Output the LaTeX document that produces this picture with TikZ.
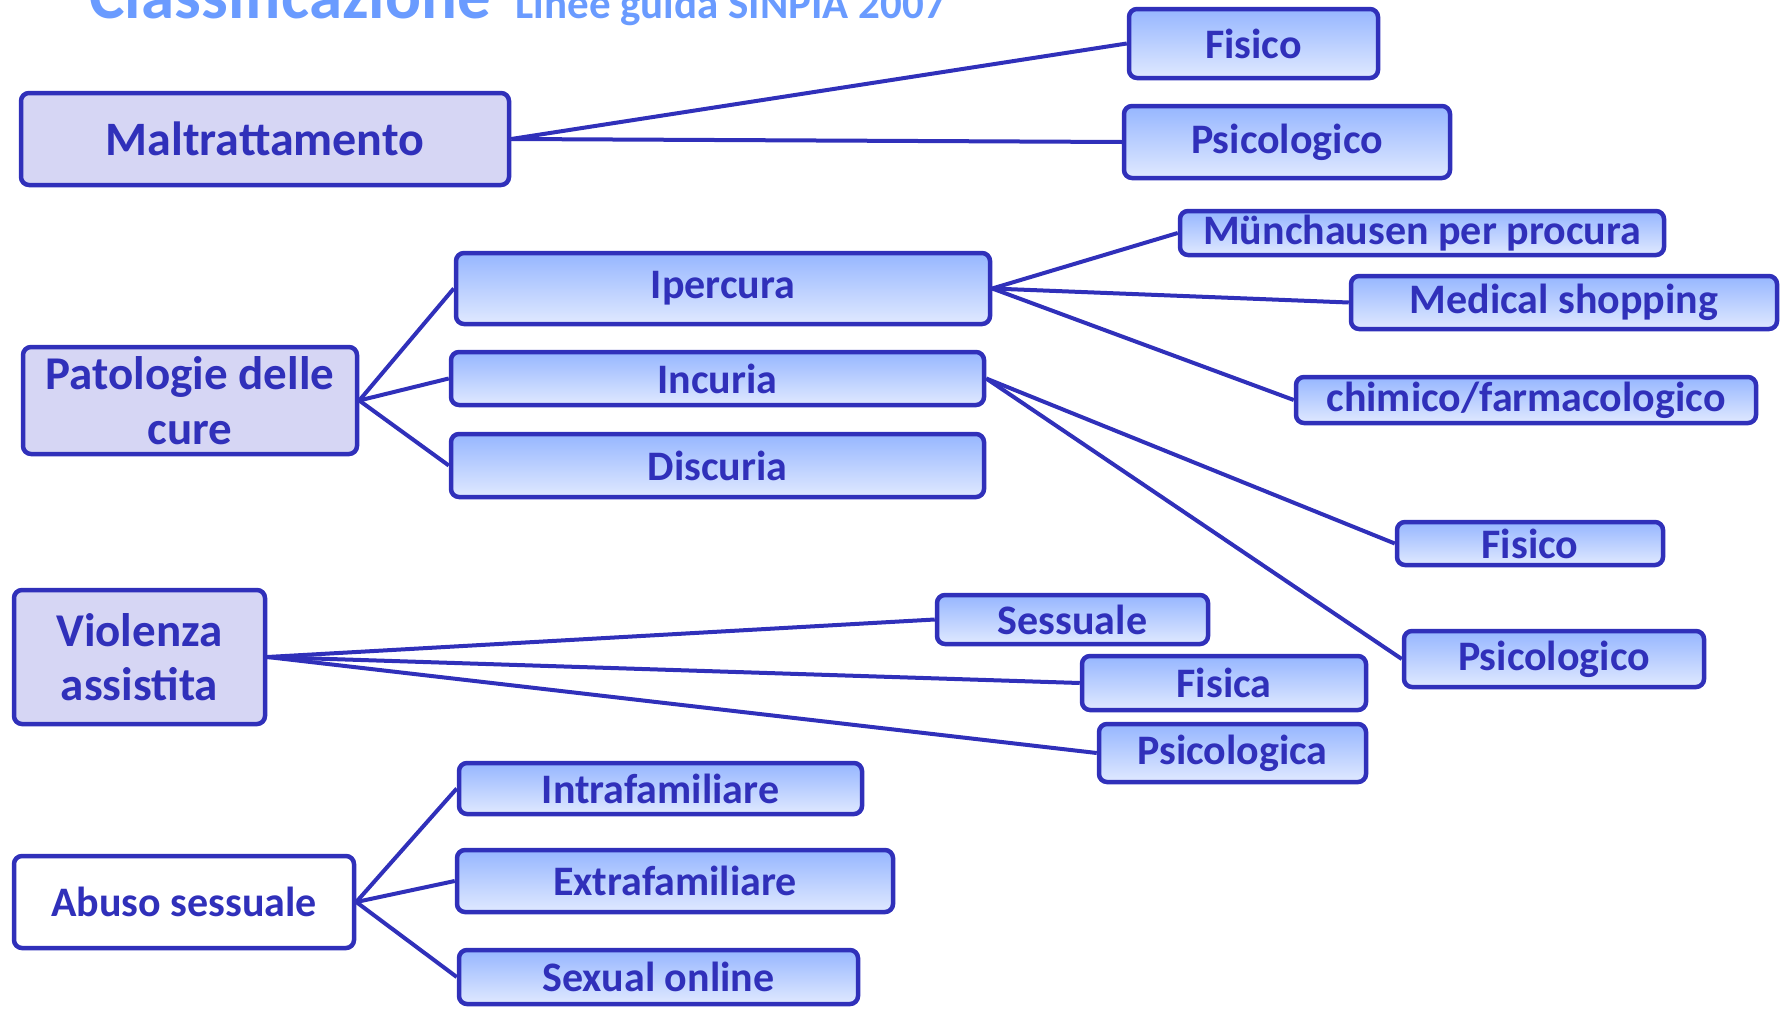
\documentclass[tikz,border=0pt]{standalone}
\usepackage{fontspec}
\setmainfont{Carlito}
\usepackage{tikz}

\definecolor{navy}{RGB}{48,48,186}
\definecolor{rootfill}{RGB}{214,214,244}
\definecolor{leaftop}{RGB}{150,182,255}
\definecolor{leafbot}{RGB}{224,233,255}
\definecolor{titleblue}{RGB}{106,155,255}

\tikzset{
  box/.style={draw=navy, line width=4.5pt, rounded corners=8pt, inner sep=0pt, text=navy, align=center},
  root/.style={box, fill=rootfill},
  leaf/.style={box, top color=leaftop, bottom color=leafbot, font=\bfseries\fontsize{42}{50}\selectfont},
  conn/.style={navy, line width=4pt}
}

\begin{document}
\begin{tikzpicture}[x=1pt,y=-1pt] % pixel grid
\useasboundingbox (0,0) rectangle (1781,1009);

\node[anchor=base west, text=titleblue, font=\bfseries\fontsize{67}{67}\selectfont] (title) at (86,18) {Classificazione};
\node[anchor=base west, text=titleblue, font=\bfseries\fontsize{43}{43}\selectfont] (subtitle) at (512,18) {Linee guida SINPIA 2007};

% roots
\node[root, minimum width=488pt, minimum height=92pt, font=\bfseries\fontsize{48}{56}\selectfont] (malt) at (265,139) {Maltrattamento};
\node[root, minimum width=334pt, minimum height=107pt, font=\bfseries\fontsize{47}{55}\selectfont] (patol) at (190,400.5) {Patologie delle\\cure};
\node[root, minimum width=251pt, minimum height=134pt, font=\bfseries\fontsize{47}{54}\selectfont] (viol) at (139.5,657) {Violenza\\assistita};
\node[box, fill=white, minimum width=340pt, minimum height=92pt, font=\bfseries\fontsize{42}{50}\selectfont] (abuso) at (184,902) {Abuso sessuale};

% maltrattamento
\node[leaf, minimum width=249pt, minimum height=69pt] (fis1) at (1253.5,43.5) {Fisico};
\node[leaf, minimum width=326pt, minimum height=72pt] (psi1) at (1287,142) {Psicologico};

% patologie delle cure
\node[leaf, minimum width=534pt, minimum height=71pt] (iper) at (723,288.5) {Ipercura};
\node[leaf, minimum width=533pt, minimum height=53pt] (incur) at (717.5,378.5) {Incuria};
\node[leaf, minimum width=533pt, minimum height=63pt] (discur) at (717.5,465.5) {Discuria};

\node[leaf, minimum width=484pt, minimum height=44pt] (munch) at (1422,233) {Münchausen per procura};
\node[leaf, minimum width=426pt, minimum height=53pt] (medic) at (1564,302.5) {Medical shopping};
\node[leaf, minimum width=460pt, minimum height=46pt] (chim) at (1526,400) {chimico/farmacologico};
\node[leaf, minimum width=266pt, minimum height=43pt] (fis2) at (1530,543.5) {Fisico};
\node[leaf, minimum width=300pt, minimum height=56pt] (psi2) at (1554,659) {Psicologico};

% violenza assistita
\node[leaf, minimum width=271pt, minimum height=49pt] (sess) at (1072.5,619.5) {Sessuale};
\node[leaf, minimum width=284pt, minimum height=54pt] (fisica) at (1224,683) {Fisica};
\node[leaf, minimum width=267pt, minimum height=58pt] (psica) at (1232.5,753) {Psicologica};

% abuso sessuale
\node[leaf, minimum width=403pt, minimum height=51pt] (intra) at (660.5,788.5) {Intrafamiliare};
\node[leaf, minimum width=436pt, minimum height=62pt] (extra) at (675,881) {Extrafamiliare};
\node[leaf, minimum width=399pt, minimum height=54pt] (online) at (658.5,977) {Sexual online};

\foreach \c in {fis1,psi1} {
\draw[conn] (malt.east) -- (\c.west);
}
\foreach \c in {iper,incur,discur} {
\draw[conn] (patol.east) -- (\c.west);
}
\foreach \c in {munch,medic,chim} {
\draw[conn] (iper.east) -- (\c.west);
}
\foreach \c in {fis2,psi2} {
\draw[conn] (incur.east) -- (\c.west);
}
\foreach \c in {sess,fisica,psica} {
\draw[conn] (viol.east) -- (\c.west);
}
\foreach \c in {intra,extra,online} {
\draw[conn] (abuso.east) -- (\c.west);
}
\end{tikzpicture}
\end{document}
